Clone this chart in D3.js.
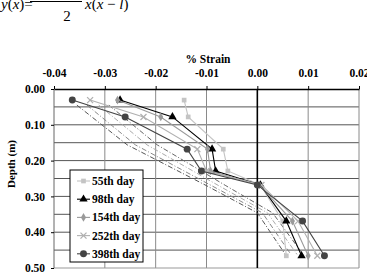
<!DOCTYPE html>
<html>
<head>
<meta charset="utf-8">
<script src="https://cdn.jsdelivr.net/npm/d3@7"></script>
<style>
    body { margin: 0; background: #fff; }
    svg text { font-family: "Liberation Serif", "Times New Roman", "DejaVu Serif", serif; }
</style>
</head>
<body>
<div class="svg"></div>
<script>
// depths (m) where the strain gauges sit
var depths = [0.031, 0.078, 0.168, 0.229, 0.268, 0.369, 0.466];

// % strain per day
var day55 = [-0.0144, -0.0136, -0.0067, -0.0058, 0.0006, 0.0050, 0.0057];
var day98 = [-0.0270, -0.0167, -0.0089, -0.0082, 0.0006, 0.0057, 0.0087];
var day154 = [-0.0275, -0.0190, -0.0098, -0.0092, 0.0004, 0.0069, 0.0100];
var day252 = [-0.0329, -0.0224, -0.0118, -0.0100, 0.0008, 0.0080, 0.0118];
var day398 = [-0.0364, -0.0260, -0.0138, -0.0110, 0.0000, 0.0089, 0.0132];

var seriesNames = ["55th day", "98th day", "154th day", "252th day", "398th day"];

// dash-dot reference lines (no markers)
var refDepths = [0.045, 0.156, 0.270, 0.346, 0.462];
var refA = [-0.0355, -0.0256, -0.0100, 0.0000, 0.0055];
var refB = [-0.0335, -0.0240, -0.0090, 0.0010, 0.0066];
var refC = [-0.0312, -0.0217, -0.0076, 0.0020, 0.0078];
var refD = [-0.0292, -0.0197, -0.0062, 0.0030, 0.0090];

var xTicks = [-0.04, -0.03, -0.02, -0.01, 0.00, 0.01, 0.02];
var yTicks = [0.00, 0.10, 0.20, 0.30, 0.40, 0.50];
var yGrid = [0.05, 0.10, 0.15, 0.20, 0.25, 0.30, 0.35, 0.40, 0.45];

var serif = "'Liberation Serif', 'Times New Roman', serif";
var width = 367, height = 272;
var svg, x, y;

var setupD3 = function () {
    x = d3.scaleLinear().domain([-0.04, 0.02]).range([54, 359]);
    y = d3.scaleLinear().domain([0, 0.5]).range([89, 268]);
    svg = d3.select("div.svg").append("svg")
        .attr("width", width)
        .attr("height", height);
};

var drawFormula = function () {
    // the cropped equation at the top left
    var g = svg.append("g").style("font-size", "15px").style("font-family", serif);
    g.append("text").attr("x", 1).attr("y", 9)
        .html('<tspan font-style="italic">y</tspan>(<tspan font-style="italic">x</tspan>)=');
    g.append("line").attr("x1", 30).attr("x2", 82).attr("y1", 1.5).attr("y2", 1.5)
        .style("stroke", "#000").style("stroke-width", 1);
    g.append("text").attr("x", 67).attr("y", 21).attr("text-anchor", "middle").text("2");
    g.append("text").attr("x", 85).attr("y", 9)
        .html('<tspan font-style="italic">x</tspan>(<tspan font-style="italic">x</tspan> \u2212 <tspan font-style="italic">l</tspan>)');
};

var drawGrid = function () {
    svg.append("g").selectAll("line")
        .data(yGrid).enter().append("line")
        .attr("x1", x(-0.04)).attr("x2", x(0.02))
        .attr("y1", function (d) { return y(d); })
        .attr("y2", function (d) { return y(d); })
        .style("stroke", "#555").style("stroke-width", 1);

    svg.append("g").selectAll("line")
        .data(xTicks.filter(function (d) { return d !== 0 && d !== -0.04; }))
        .enter().append("line")
        .attr("x1", function (d) { return x(d); })
        .attr("x2", function (d) { return x(d); })
        .attr("y1", y(0)).attr("y2", y(0.5))
        .style("stroke", "#8a8a8a").style("stroke-width", 1);

    // bottom edge and left edge
    svg.append("line").attr("x1", x(-0.04)).attr("x2", x(0.02))
        .attr("y1", y(0.5)).attr("y2", y(0.5))
        .style("stroke", "#999");
    svg.append("line").attr("x1", x(-0.04)).attr("x2", x(-0.04))
        .attr("y1", y(0)).attr("y2", y(0.5))
        .style("stroke", "#666");
    // zero strain line
    svg.append("line").attr("x1", x(0)).attr("x2", x(0))
        .attr("y1", y(0)).attr("y2", y(0.5))
        .style("stroke", "#000").style("stroke-width", 1.6);
};

var drawAxes = function () {
    var top = svg.append("g")
        .attr("transform", "translate(0," + y(0) + ")")
        .call(d3.axisTop(x).tickValues(xTicks).tickSize(3).tickSizeOuter(0)
            .tickFormat(function (d) { return d.toFixed(2); }));
    top.attr("font-family", null);
    top.select(".domain").style("stroke", "#000").style("stroke-width", 1.3);
    top.selectAll("text")
        .style("font-family", serif).style("font-weight", "bold")
        .style("font-size", "11.5px").attr("dy", "0").attr("y", -12);

    var left = svg.append("g")
        .attr("transform", "translate(" + x(-0.04) + ",0)")
        .call(d3.axisLeft(y).tickValues(yTicks).tickSize(3).tickSizeOuter(0)
            .tickFormat(function (d) { return d.toFixed(2); }));
    left.attr("font-family", null);
    left.select(".domain").remove();
    left.selectAll("text")
        .style("font-family", serif).style("font-weight", "bold")
        .style("font-size", "11.5px").attr("x", -9);

    svg.append("text").attr("x", 208).attr("y", 63)
        .attr("text-anchor", "middle")
        .style("font-family", serif)
        .style("font-weight", "bold").style("font-size", "11.5px")
        .text("% Strain");

    svg.append("text")
        .attr("transform", "translate(15,164) rotate(-90)")
        .attr("text-anchor", "middle")
        .style("font-family", serif)
        .style("font-weight", "bold").style("font-size", "11px")
        .text("Depth (m)");
};

var drawRefLines = function () {
    var refs = [
        {vals: refA, color: "#555"},
        {vals: refB, color: "#888"},
        {vals: refC, color: "#aaa"},
        {vals: refD, color: "#666"}
    ];
    var line = d3.line()
        .x(function (d) { return x(d[0]); })
        .y(function (d) { return y(d[1]); });
    svg.append("g").selectAll("path")
        .data(refs).enter().append("path")
        .attr("d", function (r) { return line(d3.zip(r.vals, refDepths)); })
        .style("fill", "none")
        .style("stroke", function (r) { return r.color; })
        .style("stroke-width", 1)
        .style("stroke-dasharray", "5,2,1,2");
};

var styles = [
    {vals: day55, color: "#c4c4c4", symbol: d3.symbolSquare, size: 22},
    {vals: day98, color: "#000", symbol: d3.symbolTriangle, size: 30},
    {vals: day154, color: "#9a9a9a", symbol: d3.symbolDiamond, size: 22},
    {vals: day252, color: "#b0b0b0", symbol: d3.symbolCross, size: 0},
    {vals: day398, color: "#444", symbol: d3.symbolCircle, size: 38}
];

var drawMarker = function (g, s, cx, cy) {
    if (s.size === 0) {
        // x-shaped marker
        g.append("path")
            .attr("d", "M" + (cx - 3) + "," + (cy - 3) + "L" + (cx + 3) + "," + (cy + 3) +
                "M" + (cx - 3) + "," + (cy + 3) + "L" + (cx + 3) + "," + (cy - 3))
            .style("stroke", s.color).style("stroke-width", 1.3);
    } else {
        g.append("path")
            .attr("d", d3.symbol().type(s.symbol).size(s.size))
            .attr("transform", "translate(" + cx + "," + cy + ")")
            .style("fill", s.color);
    }
};

var drawSeries = function () {
    var line = d3.line()
        .x(function (d) { return x(d[0]); })
        .y(function (d) { return y(d[1]); });
    styles.forEach(function (s) {
        var g = svg.append("g");
        g.append("path")
            .attr("d", line(d3.zip(s.vals, depths)))
            .style("fill", "none")
            .style("stroke", s.color)
            .style("stroke-width", 1.1);
        s.vals.forEach(function (v, i) {
            drawMarker(g, s, x(v), y(depths[i]));
        });
    });
};

var drawLegend = function () {
    var g = svg.append("g");
    g.append("rect").attr("x", 70).attr("y", 170).attr("width", 73).attr("height", 92)
        .style("fill", "#fff").style("stroke", "#000").style("stroke-width", 1);
    styles.forEach(function (s, i) {
        var cy = 181 + i * 18.2;
        g.append("line").attr("x1", 77).attr("x2", 90).attr("y1", cy).attr("y2", cy)
            .style("stroke", s.color).style("stroke-width", 1.1);
        drawMarker(g, s, 83.5, cy);
        g.append("text").attr("x", 92).attr("y", cy + 4)
            .style("font-family", serif)
            .style("font-weight", "bold").style("font-size", "11.5px")
            .text(seriesNames[i]);
    });
};

setupD3();
drawFormula();
drawGrid();
drawRefLines();
drawSeries();
drawAxes();
drawLegend();
</script>
</body>
</html>
